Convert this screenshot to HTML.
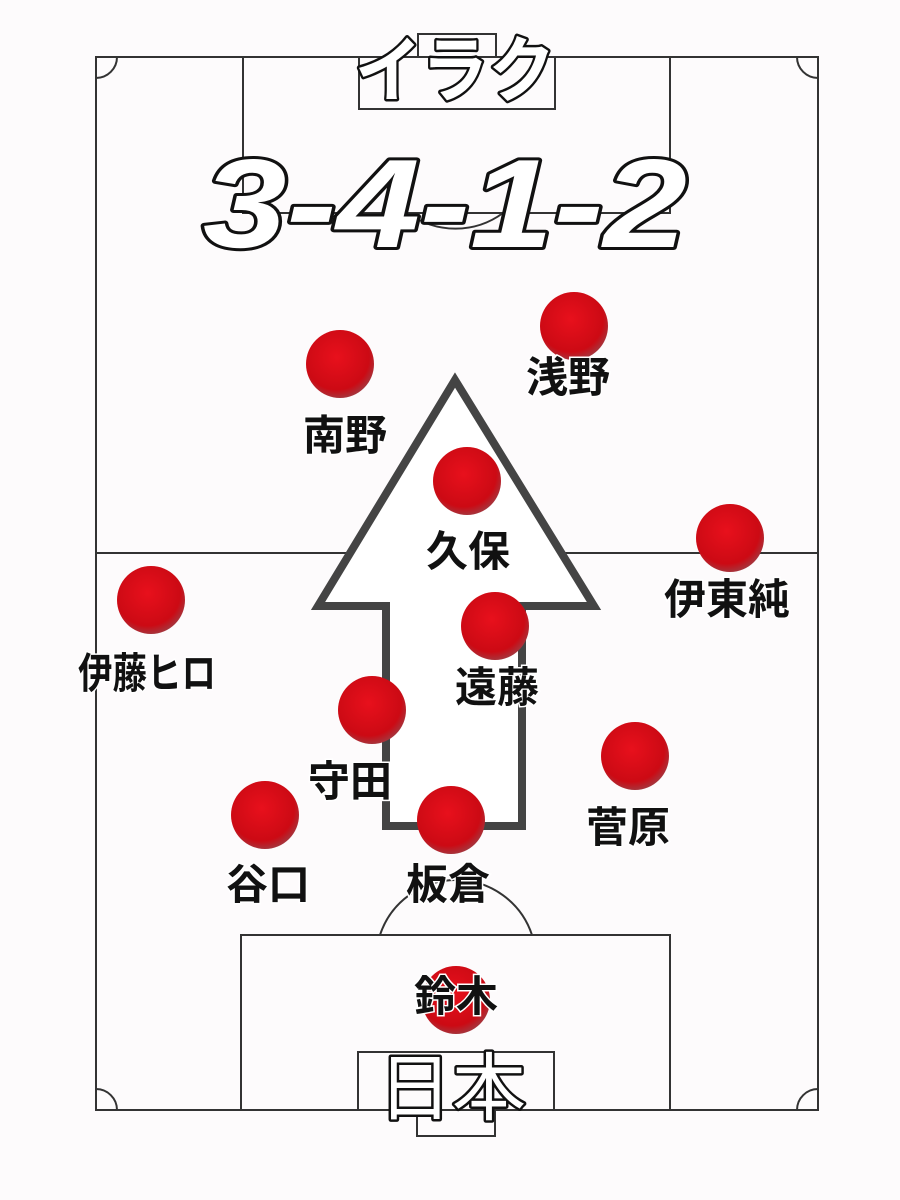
<!DOCTYPE html>
<html><head><meta charset="utf-8"><style>
body{margin:0;background:#fdfbfc;}
svg{display:block}
text{font-family:"Liberation Sans","Noto Sans CJK JP",sans-serif;}
.lab{font-size:42px;font-weight:bold;fill:#111;text-anchor:middle;paint-order:stroke;stroke:#fff;stroke-width:3px}
.out{fill:#fff;stroke:#111;stroke-width:5px;paint-order:stroke;text-anchor:middle;stroke-linejoin:round}
</style></head><body>
<svg width="900" height="1200" viewBox="0 0 900 1200" xmlns="http://www.w3.org/2000/svg">
<defs><radialGradient id="r" cx="0.45" cy="0.4" r="0.6">
<stop offset="0" stop-color="#e8101c"/><stop offset="0.8" stop-color="#cc0a14"/><stop offset="1" stop-color="#a8323a"/></radialGradient></defs>
<rect width="900" height="1200" fill="#fdfbfc"/>
<g fill="none" stroke="#333" stroke-width="2">
<rect x="96" y="57" width="722" height="1053"/>
<line x1="96" y1="553" x2="818" y2="553"/>
<path d="M243 57 V213 H670 V57"/>
<rect x="359" y="57" width="196" height="52"/>
<path d="M418 57 V34 H496 V57"/>
<path d="M408 213 A80 80 0 0 0 503 213"/>
<path d="M241 1110 V935 H670 V1110"/>
<path d="M380 935 A80 80 0 0 1 532 935"/>
<rect x="358" y="1052" width="196" height="58"/>
<path d="M417 1110 V1136 H495 V1110"/>
<path d="M96 78 A21 21 0 0 0 117 57"/>
<path d="M797 57 A21 21 0 0 0 818 78"/>
<path d="M96 1089 A21 21 0 0 1 117 1110"/>
<path d="M797 1110 A21 21 0 0 1 818 1089"/>
</g>
<text x="455" y="96" class="out" style="font-size:72px;font-weight:bold" textLength="200" lengthAdjust="spacingAndGlyphs">イラク</text>
<text x="445" y="247" class="out" style="font-size:126px;font-weight:bold;font-style:italic;stroke-width:6px" textLength="484" lengthAdjust="spacingAndGlyphs">3-4-1-2</text>
<polygon points="455,380 318,606 386,606 386,826 522,826 522,606 594,606" fill="#fff" stroke="#444" stroke-width="8" stroke-linejoin="miter"/>
<g fill="url(#r)">
<circle cx="574" cy="326" r="34"/><circle cx="340" cy="364" r="34"/>
<circle cx="467" cy="481" r="34"/><circle cx="730" cy="538" r="34"/>
<circle cx="151" cy="600" r="34"/><circle cx="495" cy="626" r="34"/>
<circle cx="372" cy="710" r="34"/><circle cx="635" cy="756" r="34"/>
<circle cx="265" cy="815" r="34"/><circle cx="451" cy="820" r="34"/>
<circle cx="456" cy="1000" r="34"/>
</g>
<text x="568" y="392" class="lab">浅野</text>
<text x="345" y="450" class="lab">南野</text>
<text x="468" y="566" class="lab">久保</text>
<text x="727" y="614" class="lab">伊東純</text>
<text x="147" y="688" class="lab" textLength="138" lengthAdjust="spacingAndGlyphs">伊藤ヒロ</text>
<text x="497" y="702" class="lab">遠藤</text>
<text x="350" y="796" class="lab">守田</text>
<text x="628" y="842" class="lab">菅原</text>
<text x="268" y="899" class="lab">谷口</text>
<text x="448" y="899" class="lab">板倉</text>
<text x="456" y="1011" class="lab">鈴木</text>
<text x="452" y="1114" class="out" style="font-size:74px">日本</text>
</svg>
</body></html>
